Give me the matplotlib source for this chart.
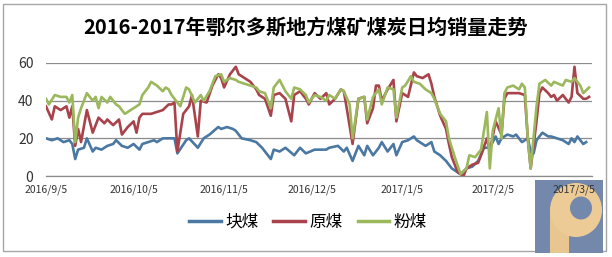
import numpy as np
import pandas as pd
import matplotlib as mpl
import matplotlib.pyplot as plt
from matplotlib.patches import Rectangle, Ellipse

plt.rcParams['font.family'] = ['Noto Sans CJK SC', 'DejaVu Sans']

start_date = "2016-09-05"
title = "2016-2017年鄂尔多斯地方煤矿煤炭日均销量走势"
series_names = ["块煤", "原煤", "粉煤"]
tick_dates = ["2016-09-05", "2016-10-05", "2016-11-05", "2016-12-05",
              "2017-01-05", "2017-02-05", "2017-03-05"]
tick_labels = ["2016/9/5", "2016/10/5", "2016/11/5", "2016/12/5",
               "2017/1/5", "2017/2/5", "2017/3/5"]

# 块煤 (day offset from 2016-09-05, value)
kuai_days = [0, 2, 4, 6, 8, 9, 10, 11, 13, 14, 16, 17, 19, 21, 23, 24, 26, 28, 30, 32,
             33, 35, 37, 38, 40, 42, 44, 45, 48, 49, 52, 54, 56, 59, 60, 62, 64, 65, 67, 70,
             72, 74, 77, 78, 80, 82, 85, 87, 89, 92, 94, 96, 97, 100, 102, 103, 105, 107, 109, 110,
             112, 114, 115, 117, 119, 120, 122, 124, 126, 127, 130, 132, 133, 135, 137, 139, 142, 144, 146, 148,
             150, 152, 154, 155, 156, 158, 160, 161, 163, 165, 166, 167, 168, 170, 172, 173, 175, 177, 179, 180,
             181, 182, 184, 185]
kuai_vals = [20, 19, 20, 18, 19, 17, 9, 14, 15, 20, 13, 15, 14, 16, 17, 19, 16, 15, 17, 14,
             17, 18, 19, 18, 20, 20, 20, 12, 19, 20, 15, 20, 22, 26, 25, 26, 25, 24, 20, 19,
             18, 15, 9, 14, 13, 15, 11, 15, 12, 14, 14, 14, 15, 16, 13, 15, 8, 16, 11, 16,
             11, 15, 18, 13, 17, 11, 18, 19, 21, 19, 16, 18, 13, 11, 8, 4, 1, 4, 5, 8,
             15, 15, 21, 17, 20, 22, 21, 22, 18, 20, 13, 12, 19, 23, 21, 21, 20, 19, 17, 20,
             18, 21, 17, 18]

# 原煤
yuan_days = [0, 2, 3, 5, 7, 8, 9, 10, 11, 12, 14, 15, 16, 18, 20, 21, 23, 25, 26, 28,
             30, 31, 32, 33, 36, 38, 40, 42, 43, 44, 45, 47, 49, 50, 52, 53, 55, 57, 59, 60,
             61, 63, 65, 66, 68, 70, 72, 73, 75, 77, 78, 80, 82, 84, 85, 87, 89, 90, 92, 94,
             96, 97, 99, 101, 102, 103, 105, 107, 109, 110, 112, 113, 114, 115, 117, 119, 120, 122, 123, 124,
             126, 127, 129, 131, 132, 133, 135, 137, 138, 139, 141, 143, 144, 146, 148, 149, 151, 152, 154, 156,
             157, 158, 160, 162, 164, 165, 166, 168, 169, 170, 172, 173, 174, 175, 177, 179, 180, 181, 182, 184,
             185, 186]
yuan_vals = [37, 30, 37, 35, 37, 31, 37, 16, 25, 18, 35, 29, 23, 31, 28, 30, 27, 30, 22, 26,
             29, 23, 31, 33, 33, 34, 35, 38, 38, 39, 13, 33, 37, 43, 21, 40, 39, 48, 54, 52,
             47, 54, 58, 54, 52, 50, 46, 43, 41, 32, 43, 44, 41, 29, 43, 45, 41, 38, 44, 41,
             44, 38, 41, 46, 45, 36, 17, 41, 42, 28, 36, 48, 48, 40, 46, 51, 29, 44, 43, 42,
             55, 53, 52, 54, 49, 42, 32, 25, 17, 10, 2, 0, 4, 6, 7, 11, 20, 13, 29, 22,
             41, 44, 44, 44, 43, 20, 4, 29, 44, 47, 44, 42, 43, 40, 43, 39, 42, 58, 44, 41,
             41, 42]

# 粉煤
fen_days = [0, 1, 3, 5, 7, 8, 9, 10, 11, 12, 14, 16, 17, 18, 19, 21, 22, 24, 25, 27,
            29, 31, 32, 33, 35, 36, 38, 40, 41, 42, 43, 45, 46, 48, 49, 51, 53, 54, 56, 58,
            60, 61, 63, 65, 66, 68, 70, 72, 73, 75, 77, 78, 80, 82, 84, 85, 87, 89, 90, 92,
            94, 96, 97, 99, 101, 102, 104, 105, 107, 109, 110, 112, 114, 115, 117, 119, 120, 122, 123, 125,
            126, 128, 130, 132, 133, 135, 137, 138, 140, 142, 144, 145, 147, 149, 150, 151, 152, 153, 155, 156,
            157, 158, 160, 162, 163, 164, 165, 166, 168, 169, 171, 173, 174, 177, 178, 180, 181, 183, 184, 186]
fen_vals = [41, 38, 43, 42, 42, 39, 43, 18, 31, 36, 44, 40, 42, 36, 42, 39, 42, 38, 37, 33,
            35, 37, 38, 43, 47, 50, 48, 45, 47, 46, 43, 39, 37, 47, 46, 39, 43, 40, 45, 53,
            54, 50, 52, 51, 50, 49, 48, 47, 45, 44, 36, 47, 51, 45, 41, 47, 46, 43, 39, 43,
            42, 40, 43, 41, 46, 45, 38, 20, 41, 42, 30, 42, 46, 38, 47, 46, 31, 47, 48, 53,
            50, 49, 46, 44, 41, 33, 29, 20, 10, 1, 4, 11, 10, 14, 24, 34, 4, 24, 36, 20,
            44, 47, 48, 46, 49, 47, 20, 4, 37, 49, 51, 48, 50, 48, 51, 50, 52, 48, 44, 47]

colors = ["#4a78a3", "#a9434b", "#9bb85c"]

W, H = 612, 257
fig = plt.figure(figsize=(W / 100, H / 100), dpi=100)
fig.patch.set_facecolor("white")
ax = fig.add_axes([46 / W, 1 - 176 / H, (592 - 46) / W, (176 - 63) / H])
ax.patch.set_visible(False)

t0 = pd.Timestamp(start_date)
all_days = [kuai_days, yuan_days, fen_days]
all_vals = [kuai_vals, yuan_vals, fen_vals]
for name, days, vals, c in zip(series_names, all_days, all_vals, colors):
    x = t0 + pd.to_timedelta(days, unit="D")
    ax.plot(x, vals, color=c, lw=1.9, label=name, solid_joinstyle="round")

ax.set_ylim(0, 60)
ax.set_xlim(t0, t0 + pd.Timedelta(days=187))
ax.set_yticks([0, 20, 40, 60])
ax.set_yticklabels(["0", "20", "40", "60"], fontsize=10, color="#333333")
ax.set_xticks(pd.to_datetime(tick_dates))
ax.set_xticklabels(tick_labels, fontsize=7.5, color="#333333")
ax.tick_params(axis="both", length=0)
ax.tick_params(axis="y", pad=9)
ax.tick_params(axis="x", pad=6)
ax.grid(axis="y", color="#8c8c8c", lw=0.9)
ax.set_axisbelow(True)
for s in ["top", "right", "left"]:
    ax.spines[s].set_visible(False)
ax.spines["bottom"].set_color("#8c8c8c")
ax.spines["bottom"].set_linewidth(0.9)

fig.text(0.5, 1 - 27 / H, title, ha="center", va="center", fontsize=14.5, fontweight="bold")

leg = ax.legend(loc="center", bbox_to_anchor=(308 / W, 1 - 222 / H), bbox_transform=fig.transFigure,
                ncol=3, frameon=False, fontsize=12, handlelength=1.9, handletextpad=0.25,
                columnspacing=0.9)
for line in leg.get_lines():
    line.set_linewidth(2.5)

# outer frame
fig.add_artist(Rectangle((3 / W, 1 - 251 / H), (606 - 3) / W, (251 - 4) / H,
                         transform=fig.transFigure, fill=False, ec="#a6a6a6", lw=1, zorder=-2))

# logo in lower right corner, drawn under the tick labels
def px(x, y):
    return (x / W, 1 - y / H)

fig.add_artist(Rectangle(px(535, 253), (603 - 535) / W, (253 - 180) / H, transform=fig.transFigure,
                         fc="#7388ab", ec="none", zorder=-1))
fig.add_artist(Rectangle(px(550, 253), 19 / W, 45 / H, transform=fig.transFigure,
                         fc="#e9c690", ec="none", zorder=-1))
fig.add_artist(Ellipse(px(576, 210), 52 / W, 54 / H, transform=fig.transFigure,
                       fc="#eccb96", ec="none", zorder=-1))
fig.add_artist(Ellipse(px(581, 208), 22 / W, 23 / H, transform=fig.transFigure,
                       fc="#7388ab", ec="none", zorder=-1))

plt.savefig("out.png", dpi=100)
plt.close()
